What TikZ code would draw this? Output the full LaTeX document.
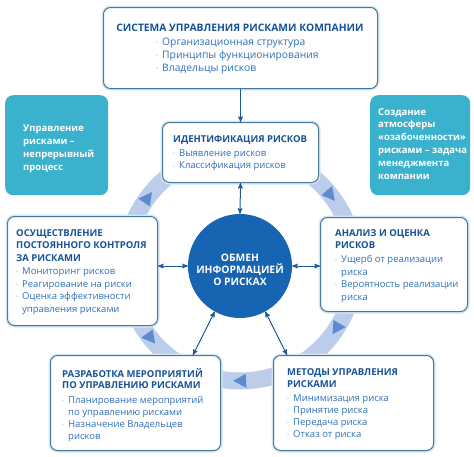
\documentclass[tikz,border=0pt]{standalone}
\usepackage{fontspec}
\setmainfont{Open Sans}
\usetikzlibrary{arrows,calc,positioning,shapes}
\definecolor{my_border}{RGB}{70,120,155}
\definecolor{my_glow}{RGB}{214,230,240}
\definecolor{my_title}{RGB}{22,82,150}
\definecolor{my_text}{RGB}{48,112,182}
\definecolor{my_dot}{RGB}{160,178,196}
\definecolor{my_teal}{RGB}{58,178,205}
\definecolor{my_circle}{RGB}{22,100,178}
\definecolor{my_ring}{RGB}{188,205,236}
\definecolor{my_tri}{RGB}{92,140,205}
\definecolor{my_arrow}{RGB}{30,90,155}
\tikzset{
  riskbox/.style = {draw=my_border, line width=1pt, fill=white, rounded corners=7pt,
  anchor=north west, inner sep=0pt, preaction={draw=my_glow, line width=4pt}},
  tealbox/.style = {fill=my_teal, draw=none, rounded corners=8pt, anchor=north west, inner sep=0pt},
  box_txt/.style = {align=left, anchor=north west, inner sep=0pt, text=my_text,
  font=\fontsize{9.5}{12.4}\selectfont},
  big_txt/.style = {box_txt, font=\fontsize{10.3}{13}\selectfont},
  teal_txt/.style = {box_txt, text=white, font=\bfseries\fontsize{9.5}{12.8}\selectfont},
  link/.style = {<->, >=stealth', draw=my_arrow, line width=1pt}
}
\newcommand{\bpt}{\makebox[6pt][l]{\textcolor{my_dot}{\raisebox{0.8pt}{\fontsize{5}{5}\selectfont •}}}}
\newcommand{\bind}{\hspace*{6pt}}
\newcommand{\btitle}[1]{\textcolor{my_title}{\bfseries #1}}

\begin{document}
\begin{tikzpicture}[x=1pt, y=-1pt]
    \useasboundingbox (0,0) rectangle (474,456);
    % ring behind everything
    \coordinate (hub) at (240,266);
    \draw [my_ring, line width=17pt] (hub) circle (115);
    \foreach \a/\d in {-143.5/1,-38/1,33/1,90/1,141/-1}
        \fill [my_tri] ([shift={(hub)}]\a+3.5*\d:115) -- ([shift={(hub)}]\a-3*\d:108)
            -- ([shift={(hub)}]\a-3*\d:122) -- cycle;
    \node [circle, fill=my_circle, minimum size=104pt, inner sep=0pt, text=white, align=center,
      font=\bfseries\fontsize{10.3}{12.4}\selectfont] (info) at (hub) {\rule{0pt}{15pt}ОБМЕН\\ИНФОРМАЦИЕЙ\\О РИСКАХ};

    % boxes
    \node [riskbox, minimum width=274pt, minimum height=81pt] (sys) at (103,7) {};
    \node [big_txt, anchor=north] (sys_title) at (240,24) {\btitle{СИСТЕМА УПРАВЛЕНИЯ РИСКАМИ КОМПАНИИ}};
    \node [big_txt] (sys_list) at (156,38) {\bpt Организационная структура\\
      \bpt Принципы функционирования\\ \bpt Владельцы рисков};

    \node [tealbox, minimum width=103pt, minimum height=100pt] (left_note) at (5,95) {};
    \node [teal_txt] (left_txt) at (23,125) {Управление\\рисками –\\непрерывный\\процесс};
    \node [tealbox, minimum width=100pt, minimum height=100pt] (right_note) at (370,95) {};
    \node [teal_txt] (right_txt) at (378,108) {Создание\\атмосферы\\«озабоченности»\\рисками – задача\\менеджмента\\компании};

    \node [riskbox, minimum width=156pt, minimum height=60pt] (ident) at (162,122) {};
    \node [box_txt] (ident_txt) at (173,135) {\btitle{ИДЕНТИФИКАЦИЯ РИСКОВ}\\[2pt]
      \bpt Выявление рисков\\ \bpt Классификация рисков};

    \node [riskbox, minimum width=150pt, minimum height=109pt] (control) at (7,216) {};
    \node [box_txt, font=\fontsize{9.5}{12.5}\selectfont] (control_txt) at (16,229) {\btitle{ОСУЩЕСТВЛЕНИЕ}\\ \btitle{ПОСТОЯННОГО КОНТРОЛЯ}\\
      \btitle{ЗА РИСКАМИ}\\[1pt] \bpt Мониторинг рисков\\ \bpt Реагирование на риски\\
      \bpt Оценка эффективности\\ \bind управления рисками};

    \node [riskbox, minimum width=147pt, minimum height=94pt] (analysis) at (320,217) {};
    \node [box_txt] (analysis_txt) at (335,229) {\btitle{АНАЛИЗ И ОЦЕНКА}\\ \btitle{РИСКОВ}\\[2pt]
      \bpt Ущерб от реализации\\ \bind риска\\ \bpt Вероятность реализации\\ \bind риска};

    \node [riskbox, minimum width=170pt, minimum height=95pt] (develop) at (50,355) {};
    \node [box_txt, font=\fontsize{9.5}{11.8}\selectfont] (develop_txt) at (62,368) {\btitle{РАЗРАБОТКА МЕРОПРИЯТИЙ}\\ \btitle{ПО УПРАВЛЕНИЮ РИСКАМИ}\\[3pt]
      \bpt Планирование мероприятий\\ \bind по управлению рисками\\ \bpt Назначение Владельцев\\ \bind рисков};

    \node [riskbox, minimum width=160pt, minimum height=95pt] (methods) at (273,355) {};
    \node [box_txt, font=\fontsize{9.5}{12}\selectfont] (methods_txt) at (287,368) {\btitle{МЕТОДЫ УПРАВЛЕНИЯ}\\ \btitle{РИСКАМИ}\\[2pt]
      \bpt Минимизация риска\\ \bpt Принятие риска\\ \bpt Передача риска\\ \bpt Отказ от риска};

    % connectors
    \draw [->, >=stealth', draw=my_arrow, line width=1pt] (sys.south) -- (ident.north);
    \draw [link] (ident.south) -- (info.north);
    \draw [link] (info.west) -- (info.west -| control.east);
    \draw [link] (info.east) -- (info.east -| analysis.west);
    \draw [link] (info.-119) -- ($(develop.north east)+(-28,0)$);
    \draw [link] (info.-61) -- ($(methods.north west)+(14,0)$);
\end{tikzpicture}
\end{document}
